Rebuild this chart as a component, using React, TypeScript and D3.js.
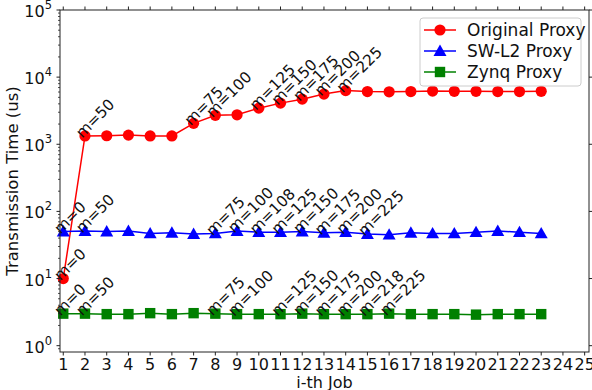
import React from "react";
import * as d3 from "d3";

// job index on x, transmission time in us on y (log)
const jobs = d3.range(1, 24);
const originalProxy = [10, 1330, 1340, 1370, 1330, 1330, 2050, 2700, 2750, 3450, 4100, 4700, 5600, 6300, 6100, 6050, 6100, 6200, 6150, 6150, 6100, 6100, 6150];
const swL2Proxy = [50, 51, 50, 51, 47, 48, 46, 47, 51, 49, 49, 50, 48, 49, 46, 45, 48, 47, 47, 49, 51, 49, 47];
const zynqProxy = [3.0, 3.0, 2.95, 2.95, 3.05, 2.95, 3.05, 3.0, 2.95, 2.95, 2.95, 3.0, 2.95, 2.95, 2.95, 3.0, 2.95, 2.95, 2.95, 2.9, 2.95, 2.95, 2.95];

// [job, label]
const originalLabels: [number, string][] = [[1, "m=0"], [2, "m=50"], [7, "m=75"], [8, "m=100"], [10, "m=125"], [11, "m=150"], [12, "m=175"], [13, "m=200"], [14, "m=225"]];
const swL2Labels: [number, string][] = [[1, "m=0"], [2, "m=50"], [8, "m=75"], [9, "m=100"], [10, "m=108"], [11, "m=125"], [12, "m=150"], [13, "m=175"], [14, "m=200"], [15, "m=225"]];
const zynqLabels: [number, string][] = [[1, "m=0"], [2, "m=50"], [8, "m=75"], [9, "m=100"], [11, "m=125"], [12, "m=150"], [13, "m=175"], [14, "m=200"], [15, "m=218"], [16, "m=225"]];

const xTicks = d3.range(1, 26);
const yDecades = [0, 1, 2, 3, 4, 5];
const seriesNames = ["Original Proxy", "SW-L2 Proxy", "Zynq Proxy"];

const W = 592, H = 390;
const left = 60, right = 589, top = 10, bottom = 352;
const font = "DejaVu Sans, sans-serif";

const x = d3.scaleLinear().domain([0.85, 25.2]).range([left, right]);
const y = d3.scaleLog().domain([0.805, 1e5]).range([bottom, top]);

const Marker = ({ kind, cx, cy, color }: { kind: string; cx: number; cy: number; color: string }) => {
    if (kind === "circle") return <circle cx={cx} cy={cy} r={5.6} fill={color} />;
    if (kind === "triangle") {
        const s = 6.5;
        return <path d={`M${cx},${cy - s}L${cx + s},${cy + s * 0.75}L${cx - s},${cy + s * 0.75}Z`} fill={color} />;
    }
    return <rect x={cx - 5.2} y={cy - 5.2} width={10.4} height={10.4} fill={color} />;
};

const Series = ({ values, color, kind, labels }: { values: number[]; color: string; kind: string; labels: [number, string][] }) => {
    const line = d3.line<number>().x((_, i) => x(jobs[i])).y((d) => y(d));
    return (
        <g>
            <path d={line(values) || ""} fill="none" stroke={color} strokeWidth={1.5} />
            {values.map((v, i) => (
                <Marker key={i} kind={kind} cx={x(jobs[i])} cy={y(v)} color={color} />
            ))}
            {labels.map(([job, text]) => {
                const px = x(job), py = y(values[job - 1]);
                return (
                    <text key={job + text} x={px} y={py} transform={`rotate(-45 ${px} ${py})`}
                        fontSize={15.3} fontFamily={font} fill="#111" dx={-4}>
                        {text}
                    </text>
                );
            })}
        </g>
    );
};

export default function App() {
    const minor: number[] = [];
    for (let d = -1; d < 5; d++) {
        for (let k = 2; k <= 9; k++) {
            const v = k * Math.pow(10, d);
            if (v >= 0.805 && v <= 1e5) minor.push(v);
        }
    }
    const colors = ["#ff0000", "#0000ff", "#008000"];
    const kinds = ["circle", "triangle", "square"];
    return (
        <svg width={W} height={H} style={{ display: "block", position: "absolute", left: 0, top: 0, background: "#fff" }}>
            <rect width={W} height={H} fill="#fff" />
            {/* series */}
            <Series values={originalProxy} color={colors[0]} kind="circle" labels={originalLabels} />
            <Series values={swL2Proxy} color={colors[1]} kind="triangle" labels={swL2Labels} />
            <Series values={zynqProxy} color={colors[2]} kind="square" labels={zynqLabels} />

            {/* frame */}
            <rect x={left} y={top} width={right - left} height={bottom - top} fill="none" stroke="#222" strokeWidth={1} />

            {/* x ticks, bottom and top */}
            {xTicks.map((t) => (
                <g key={t}>
                    <line x1={x(t)} x2={x(t)} y1={bottom} y2={bottom + 3.5} stroke="#222" />
                    <line x1={x(t)} x2={x(t)} y1={top} y2={top - 3.5} stroke="#222" />
                    <text x={x(t)} y={bottom + 18} textAnchor="middle" fontSize={16} fontFamily={font} fill="#111">{t}</text>
                </g>
            ))}

            {/* y ticks */}
            {yDecades.map((e) => (
                <g key={e}>
                    <line x1={left} x2={left - 3.5} y1={y(Math.pow(10, e))} y2={y(Math.pow(10, e))} stroke="#222" />
                    <line x1={right} x2={right + 3.5} y1={y(Math.pow(10, e))} y2={y(Math.pow(10, e))} stroke="#222" />
                    <text x={left - 8} y={y(Math.pow(10, e)) + 7} textAnchor="end" fontSize={16} fontFamily={font} fill="#111">
                        10<tspan fontSize={11.5} dy={-8}>{e}</tspan>
                    </text>
                </g>
            ))}
            {minor.map((v) => (
                <line key={v} x1={left} x2={left - 2} y1={y(v)} y2={y(v)} stroke="#222" strokeWidth={0.8} />
            ))}

            {/* axis titles */}
            <text x={(left + right) / 2} y={388} textAnchor="middle" fontSize={16} fontFamily={font} fill="#111">i-th Job</text>
            <text transform={`translate(18 ${(top + bottom) / 2}) rotate(-90)`} textAnchor="middle" fontSize={16.5} fontFamily={font} fill="#111">
                Transmission Time (us)
            </text>

            {/* legend */}
            <rect x={420} y={18} width={161} height={68} rx={3} fill="#fff" fillOpacity={0.8} stroke="#ccc" />
            {seriesNames.map((name, i) => {
                const ly = 30 + i * 21;
                return (
                    <g key={name}>
                        <line x1={424} x2={456} y1={ly} y2={ly} stroke={colors[i]} strokeWidth={1.5} />
                        <Marker kind={kinds[i]} cx={440} cy={ly} color={colors[i]} />
                        <text x={467} y={ly + 6} fontSize={17} fontFamily={font} fill="#111">{name}</text>
                    </g>
                );
            })}
        </svg>
    );
}
